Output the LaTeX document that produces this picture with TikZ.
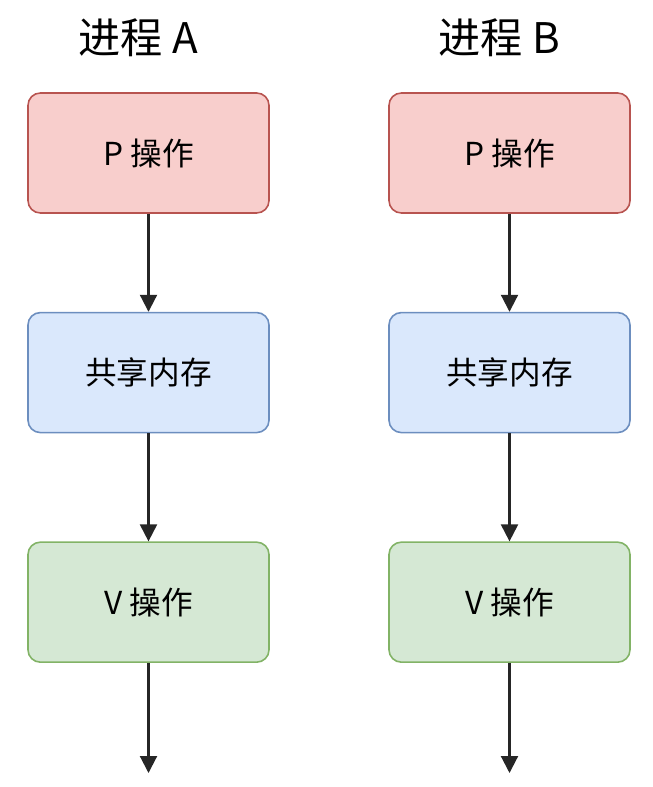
\documentclass[tikz,border=0pt]{standalone}
\usepackage{fontspec}
\setmainfont{Noto Sans CJK SC}
\usepackage{xcolor}
\usetikzlibrary{arrows.meta,positioning}
\definecolor{redpale}{HTML}{F8CECC}
\definecolor{redline}{HTML}{B85450}
\definecolor{bluepale}{HTML}{DAE8FC}
\definecolor{blueline}{HTML}{6C8EBF}
\definecolor{greenpale}{HTML}{D5E8D4}
\definecolor{greenline}{HTML}{82B366}
\tikzset{
  opbox/.style={rounded corners=7pt,line width=0.9pt,minimum width=4.82cm,minimum height=2.4cm,font=\fontsize{18}{22}\selectfont},
  pbox/.style={opbox,draw=redline,fill=redpale},
  membox/.style={opbox,draw=blueline,fill=bluepale},
  vbox/.style={opbox,draw=greenline,fill=greenpale},
  title/.style={font=\fontsize{24}{28}\selectfont},
  arr/.style={-{Triangle[length=3.4mm,width=3.4mm]},line width=1.2pt,color=black!85}
}
\begin{document}
\begin{tikzpicture}
  \useasboundingbox (0,0) rectangle (13.06,-15.74);
  % process A
  \node[title] (ta) at (2.77,-0.76) {进程 A};
  \node[pbox] (pa) at (2.97,-3.06) {P 操作};
  \node[membox,below=1.96cm of pa] (ma) {共享内存};
  \node[vbox,below=2.16cm of ma] (va) {V 操作};
  \coordinate (ea) at (2.97,-15.46);
  % process B
  \node[title] (tb) at (9.98,-0.76) {进程 B};
  \node[pbox] (pb) at (10.19,-3.06) {P 操作};
  \node[membox,below=1.96cm of pb] (mb) {共享内存};
  \node[vbox,below=2.16cm of mb] (vb) {V 操作};
  \coordinate (eb) at (10.19,-15.46);
  \draw[arr] (pa)--(ma); \draw[arr] (ma)--(va); \draw[arr] (va)--(ea);
  \draw[arr] (pb)--(mb); \draw[arr] (mb)--(vb); \draw[arr] (vb)--(eb);
\end{tikzpicture}
\end{document}
